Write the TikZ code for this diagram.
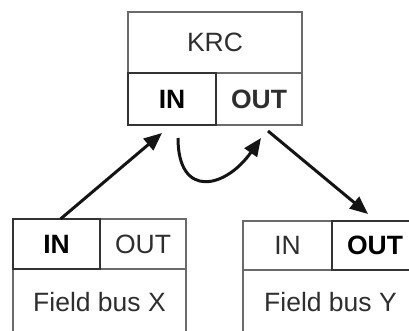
\documentclass[tikz,border=0pt]{standalone}
\usepackage{fontspec}
\setmainfont{Liberation Sans}
\usetikzlibrary{arrows.meta}
\definecolor{frame}{HTML}{6A6A6A}
\definecolor{framedark}{HTML}{333333}
\definecolor{label}{HTML}{2E2E2E}

\tikzset{
  cell/.style={draw=frame, line width=1.4pt, inner sep=0pt, outer sep=0pt,
    text=label, font=\fontsize{26.5}{30}\selectfont},
  boldcell/.style={cell, draw=framedark, line width=2.3pt, text=black,
    font=\fontsize{26.5}{30}\selectfont\bfseries},
  link/.style={-{Triangle[length=18pt,width=15pt]}, line width=3pt, draw=black!92}
}

\begin{document}
\begin{tikzpicture}[x=1pt,y=1pt]
  \useasboundingbox (0,0) rectangle (409,331);
  \clip (0,0) rectangle (409,331);
  % controller
  \node[cell, minimum width=174pt, minimum height=61pt] (krc) at (215,288.5) {KRC};
  \node[cell, minimum width=86pt, minimum height=52pt] (kout) at (259,232) {\bfseries OUT};
  \node[boldcell, minimum width=88pt, minimum height=52pt] (kin) at (172,232) {IN};
  % field bus X
  \node[cell, minimum width=86pt, minimum height=50pt] (xout) at (143,87) {OUT};
  \node[cell, minimum width=173pt, minimum height=66pt] (xbus) at (99.5,29) {Field bus X};
  \node[boldcell, minimum width=87pt, minimum height=50pt] (xin) at (56.5,87) {IN};
  % field bus Y
  \node[cell, minimum width=89pt, minimum height=49pt] (yin) at (287.5,85.5) {IN};
  \node[cell, minimum width=175pt, minimum height=64pt] (ybus) at (330.5,29) {Field bus Y};
  \node[boldcell, minimum width=86pt, minimum height=49pt] (yout) at (375,85.5) {OUT};
  % data flow
  \draw[link] ([xshift=4pt]xin.north) -- ([xshift=-10pt,yshift=-8pt]kin.south);
  \draw[link] ([xshift=6pt,yshift=-13pt]kin.south) to[out=-90, in=-125, looseness=1.9]
    ([xshift=2pt,yshift=-13pt]kout.south);
  \draw[link] ([xshift=9pt,yshift=-6pt]kout.south) -- ([xshift=-7pt,yshift=7pt]yout.north);
\end{tikzpicture}
\end{document}
